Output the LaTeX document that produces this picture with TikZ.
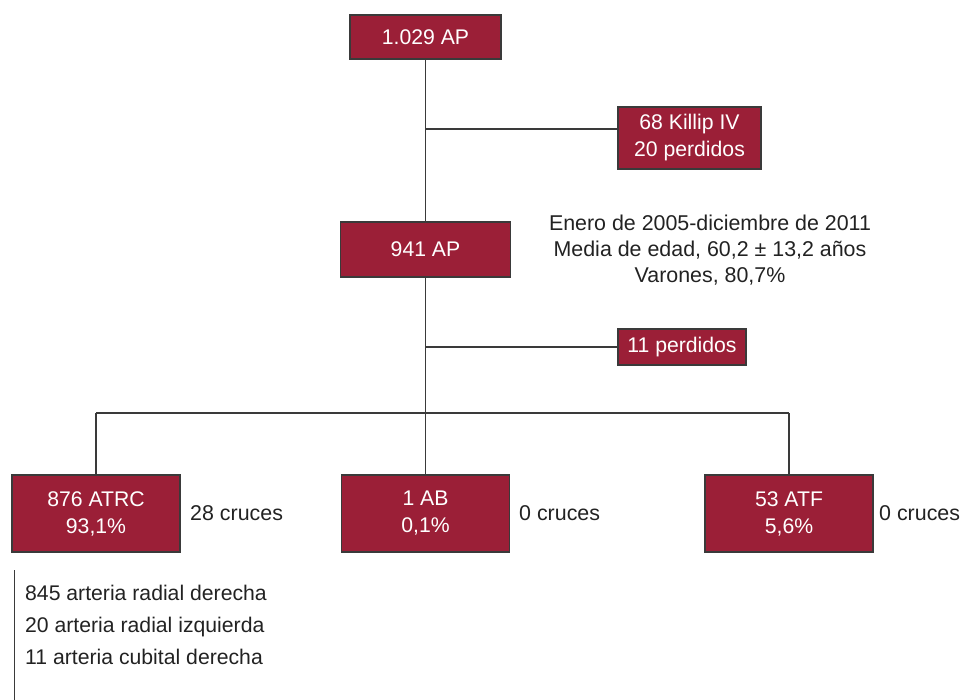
\documentclass[tikz,border=0pt]{standalone}
\usepackage{fontspec}
\setmainfont{Liberation Sans}
\definecolor{boxred}{HTML}{9B1F37}
\definecolor{linegray}{HTML}{3A3A3A}
\definecolor{txtgray}{HTML}{222222}
\begin{document}
\begin{tikzpicture}[x=1pt,y=-1pt,
  redbox/.style={draw=linegray,line width=1.2pt,fill=boxred,text=white,align=center,inner sep=0pt,
    font=\fontsize{21.2}{27}\selectfont},
  conn/.style={draw=linegray,line width=1.4pt},
  plain/.style={text=txtgray,font=\fontsize{21.4}{26}\selectfont,inner sep=0pt},
  listtxt/.style={plain,anchor=base west,font=\fontsize{21.2}{26}\selectfont}]
\useasboundingbox (0,0) rectangle (960,700);
\node[redbox,minimum width=151pt,minimum height=44pt] (top) at (425.5,37) {1.029 AP};
\node[redbox,minimum width=143pt,minimum height=62pt] (killip) at (689.5,138) {68 Killip IV\\20 perdidos};
\node[redbox,minimum width=170pt,minimum height=55pt] (n941) at (425.5,249.5) {941 AP};
\node[redbox,minimum width=128pt,minimum height=36pt] (lost) at (682,347) {11 perdidos};
\node[redbox,minimum width=168pt,minimum height=77pt] (atrc) at (96,513.5) {876 ATRC\\93,1\%};
\node[redbox,minimum width=168pt,minimum height=77pt] (ab) at (425.5,513.5) {1 AB\\0,1\%};
\node[redbox,minimum width=168pt,minimum height=77pt] (atf) at (789,513.5) {53 ATF\\5,6\%};
\node[plain,align=center] (info) at (710,250) {Enero de 2005-diciembre de 2011\\Media de edad, 60,2 ± 13,2 años\\Varones, 80,7\%};
\node[plain,anchor=west] (c1) at (190,513) {28 cruces};
\node[plain,anchor=west] (c2) at (519,513) {0 cruces};
\node[plain,anchor=west] (c3) at (879,513) {0 cruces};
\node[listtxt] (l1) at (25,600.5) {845 arteria radial derecha};
\node[listtxt] (l2) at (25,632) {20 arteria radial izquierda};
\node[listtxt] (l3) at (25,664.5) {11 arteria cubital derecha};
\coordinate (j1) at (425.5,129);
\coordinate (j2) at (425.5,347);
\coordinate (j3) at (425.5,413);
\coordinate (jl) at (96,413);
\coordinate (jr) at (789,413);
\coordinate (b1) at (14,570);
\coordinate (b2) at (14,700);
\draw[conn] (top.south) -- (n941.north);
\draw[conn] (j1) -- (j1 -| killip.west);
\draw[conn] (n941.south) -- (j3);
\draw[conn] (j2) -- (lost.west);
\draw[conn] (jl) -- (jr);
\draw[conn] (jl) -- (atrc.north);
\draw[conn] (j3) -- (ab.north);
\draw[conn] (jr) -- (atf.north);
\draw[draw=linegray,line width=1pt] (b1) -- (b2);
\end{tikzpicture}
\end{document}
